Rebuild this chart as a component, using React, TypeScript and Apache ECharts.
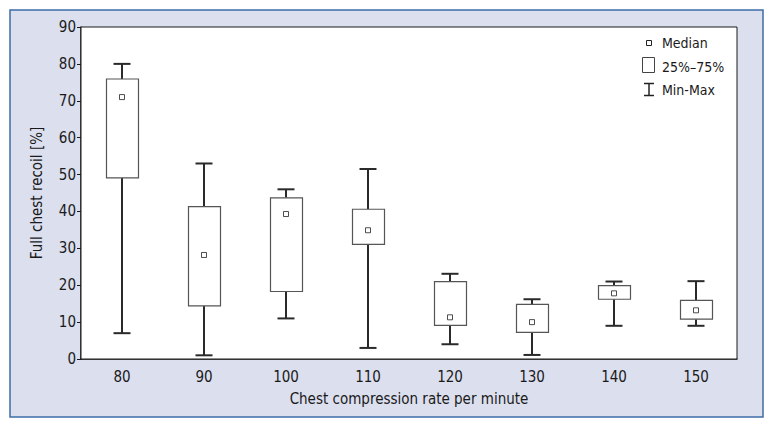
import React, { useEffect, useRef } from "react";
import * as echarts from "echarts";

const categories = ["80", "90", "100", "110", "120", "130", "140", "150"];
const minValues = [7, 1, 11, 3, 4, 1.1, 9, 9];
const q1Values = [49.1, 14.4, 18.3, 31.1, 9.1, 7.2, 16.2, 10.8];
const medianValues = [71, 28.2, 39.3, 34.9, 11.3, 10.0, 17.8, 13.2];
const q3Values = [75.9, 41.3, 43.7, 40.6, 21.0, 14.8, 19.9, 15.9];
const maxValues = [80, 53, 46, 51.5, 23.1, 16.2, 21.0, 21.1];
const legendLabels = ["Median", "25%\u201375%", "Min-Max"];

const FONT = "'DejaVu Sans Condensed', 'Liberation Sans', Arial, sans-serif";

export default function App() {
  const ref = useRef<HTMLDivElement>(null);
  useEffect(() => {
    const chart = echarts.init(ref.current!, null, { renderer: "svg" });
    const boxData = categories.map((_, i) => [i, minValues[i], q1Values[i], q3Values[i], maxValues[i]]);
    const option: any = {
      animation: false,
      backgroundColor: "#ffffff",
      grid: {
        left: 81,
        top: 27,
        width: 656,
        height: 332,
        show: true,
        backgroundColor: "#ffffff",
        borderColor: "#1a1a1a",
        borderWidth: 1,
        z: 1,
      },
      graphic: [
        {
          type: "rect",
          z: -10,
          silent: true,
          shape: { x: 10, y: 10, width: 753, height: 407 },
          style: { fill: "#dcdfee", stroke: "#3d6ea8", lineWidth: 1.5 },
        },
        {
          type: "rect",
          z: 100,
          shape: { x: 646.5, y: 40.5, width: 5, height: 5 },
          style: { fill: "#fff", stroke: "#222", lineWidth: 1 },
        },
        {
          type: "text",
          z: 100,
          x: 662,
          y: 43,
          style: { text: legendLabels[0], font: `14px ${FONT}`, fill: "#1a1a1a", verticalAlign: "middle" },
        },
        {
          type: "rect",
          z: 100,
          shape: { x: 642.5, y: 57.5, width: 12, height: 15 },
          style: { fill: "#fff", stroke: "#444", lineWidth: 1 },
        },
        {
          type: "text",
          z: 100,
          x: 662,
          y: 67,
          style: { text: legendLabels[1], font: `14px ${FONT}`, fill: "#1a1a1a", verticalAlign: "middle" },
        },
        {
          type: "line",
          z: 100,
          shape: { x1: 644, y1: 83.5, x2: 654, y2: 83.5 },
          style: { stroke: "#222", lineWidth: 1.5 },
        },
        {
          type: "line",
          z: 100,
          shape: { x1: 649, y1: 83.5, x2: 649, y2: 95.5 },
          style: { stroke: "#222", lineWidth: 1.5 },
        },
        {
          type: "line",
          z: 100,
          shape: { x1: 644, y1: 95.5, x2: 654, y2: 95.5 },
          style: { stroke: "#222", lineWidth: 1.5 },
        },
        {
          type: "text",
          z: 100,
          x: 662,
          y: 90,
          style: { text: legendLabels[2], font: `14px ${FONT}`, fill: "#1a1a1a", verticalAlign: "middle" },
        },
      ],
      xAxis: {
        type: "category",
        data: categories,
        boundaryGap: true,
        name: "Chest compression rate per minute",
        nameLocation: "middle",
        nameGap: 32,
        nameTextStyle: { fontFamily: FONT, fontSize: 15, color: "#1a1a1a" },
        axisLine: { lineStyle: { color: "#1a1a1a", width: 1.5 } },
        axisTick: { alignWithLabel: true, length: 5, lineStyle: { color: "#1a1a1a" } },
        axisLabel: { fontFamily: FONT, fontSize: 15, color: "#1a1a1a", margin: 10 },
        splitLine: { show: false },
      },
      yAxis: {
        type: "value",
        min: 0,
        max: 90,
        interval: 10,
        name: "Full chest recoil [%]",
        nameLocation: "middle",
        nameGap: 37,
        nameTextStyle: { fontFamily: FONT, fontSize: 15, color: "#1a1a1a" },
        axisLine: { show: true, lineStyle: { color: "#1a1a1a", width: 1.5 } },
        axisTick: { show: true, length: 4, lineStyle: { color: "#1a1a1a" } },
        axisLabel: { fontFamily: FONT, fontSize: 15, color: "#1a1a1a", margin: 5 },
        splitLine: { show: false },
      },
      series: [
        {
          type: "custom",
          data: boxData,
          encode: { x: 0, y: [1, 2, 3, 4] },
          z: 3,
          renderItem: (params: any, api: any) => {
            const idx = api.value(0);
            const pMin = api.coord([idx, api.value(1)]);
            const pQ1 = api.coord([idx, api.value(2)]);
            const pQ3 = api.coord([idx, api.value(3)]);
            const pMax = api.coord([idx, api.value(4)]);
            const cx = Math.round(pMin[0]);
            const boxW = 32;
            const capW = 17;
            const wStyle = { stroke: "#2a2a2a", lineWidth: 2 };
            return {
              type: "group",
              children: [
                { type: "line", shape: { x1: cx, y1: pMax[1], x2: cx, y2: pQ3[1] }, style: wStyle },
                { type: "line", shape: { x1: cx, y1: pQ1[1], x2: cx, y2: pMin[1] }, style: wStyle },
                { type: "line", shape: { x1: cx - capW / 2, y1: pMax[1], x2: cx + capW / 2, y2: pMax[1] }, style: wStyle },
                { type: "line", shape: { x1: cx - capW / 2, y1: pMin[1], x2: cx + capW / 2, y2: pMin[1] }, style: wStyle },
                {
                  type: "rect",
                  shape: { x: cx - boxW / 2 + 0.5, y: pQ3[1], width: boxW, height: pQ1[1] - pQ3[1] },
                  style: { fill: "#ffffff", stroke: "#555555", lineWidth: 1.2 },
                },
              ],
            };
          },
        },
        {
          type: "scatter",
          data: categories.map((_, i) => [i, medianValues[i]]),
          symbol: "rect",
          symbolSize: 5,
          z: 5,
          itemStyle: { color: "#ffffff", borderColor: "#222222", borderWidth: 1 },
        },
      ],
    };
    chart.setOption(option);
    return () => chart.dispose();
  }, []);
  return <div ref={ref} style={{ position: "fixed", left: 0, top: 0, width: 775, height: 428 }} />;
}
